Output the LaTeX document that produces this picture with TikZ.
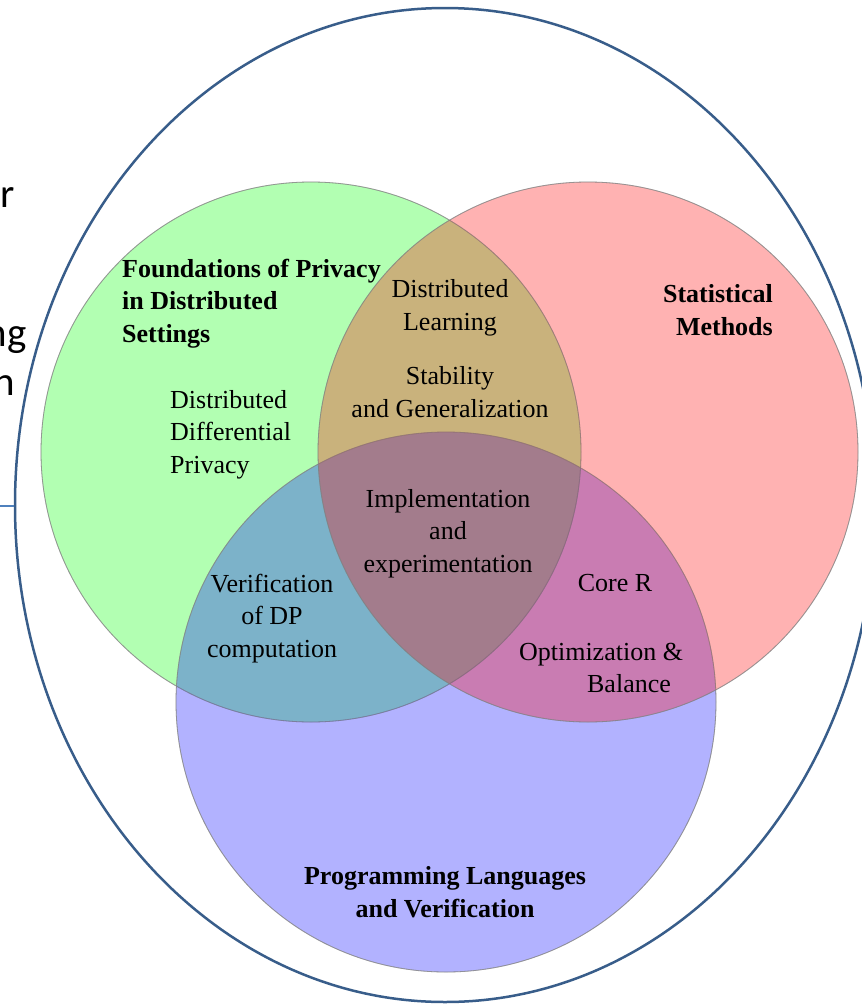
\documentclass[tikz,border=0pt]{standalone}
\usepackage{fontspec}
\usetikzlibrary{shapes.geometric}
\setmainfont{Liberation Serif}
\newfontfamily\slidefont{Carlito}
\definecolor{outline}{HTML}{385D8A}
\definecolor{linkblue}{HTML}{4F81BD}
\tikzset{
  venn/.style={fill opacity=0.3, draw=gray, draw opacity=0.55, line width=0.8pt},
  lbl/.style={font=\fontsize{26}{32.5}\selectfont, inner sep=0pt, anchor=base, align=center},
  head/.style={font=\fontsize{26}{32.5}\selectfont\bfseries, inner sep=0pt, anchor=base},
  cut/.style={font=\slidefont\fontsize{41}{49}\selectfont, inner sep=0pt, anchor=base east}
}
\begin{document}
\begin{tikzpicture}[x=1pt, y=-1pt]
\useasboundingbox (0,0) rectangle (862,1004);
% clipped text of neighbouring slide
\node[cut] (t1) at (15,207) {r};
\node[cut] (t2) at (27,346) {ng};
\node[cut] (t3) at (15,395) {n};
% outer ellipse
\node[draw=outline, line width=2.5pt, ellipse, minimum width=860pt, minimum height=994pt, inner sep=0pt] (outer) at (445,505) {};
\coordinate (lstart) at (0,506);
\draw[linkblue, line width=2pt] (lstart) -- (outer.west |- lstart);
% circles: green, blue, red (order for blending)
\fill[green, venn] (311,452) circle (270pt);
\fill[blue, venn] (446,702) circle (270pt);
\fill[red, venn] (588,452) circle (270pt);
\draw[gray, draw opacity=0.55, line width=0.8pt] (311,452) circle (270pt) (446,702) circle (270pt) (588,452) circle (270pt);
% labels (base anchor = last line's baseline)
\node[head, align=left, anchor=base west] (found) at (122,342) {Foundations of Privacy\\in Distributed\\Settings};
\node[head, align=right, anchor=base east] (stat) at (773,335) {Statistical\\Methods};
\node[head, align=center] (pl) at (445,917) {Programming Languages\\and Verification};
\node[lbl] (dl) at (450,330) {Distributed\\Learning};
\node[lbl] (sg) at (450,417) {Stability\\and Generalization};
\node[lbl] (impl) at (448,572) {Implementation\\and\\experimentation};
\node[lbl, align=left, anchor=base west] (ddp) at (170,473) {Distributed\\Differential\\Privacy};
\node[lbl] (ver) at (272,657) {Verification\\of DP\\computation};
\node[lbl] (core) at (615,591) {Core R};
\node[lbl] (opt) at (601,660) {Optimization \&};
\node[lbl] (bal) at (629,692) {Balance};
\end{tikzpicture}
\end{document}
